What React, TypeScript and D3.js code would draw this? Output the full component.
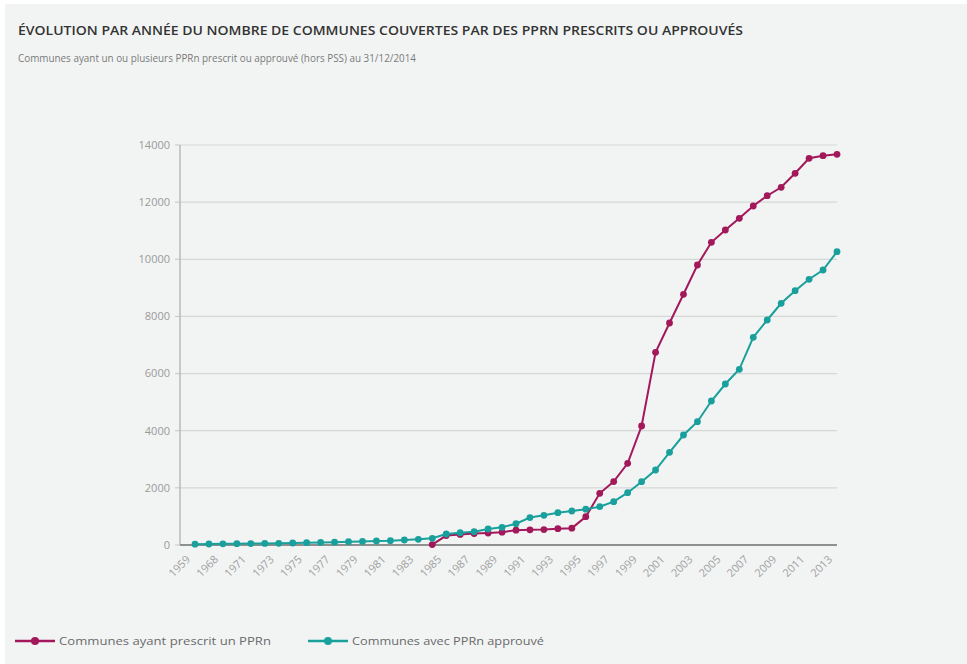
import React from "react";
import * as d3 from "d3";

// Years on the x axis (one point per year, label on every other point)
const years: string[] = [
  "1959", "1966", "1968", "1970",
  "1971", "1972", "1973", "1974", "1975", "1976", "1977", "1978", "1979", "1980",
  "1981", "1982", "1983", "1984", "1985", "1986", "1987", "1988", "1989", "1990",
  "1991", "1992", "1993", "1994", "1995", "1996", "1997", "1998", "1999", "2000",
  "2001", "2002", "2003", "2004", "2005", "2006", "2007", "2008", "2009", "2010",
  "2011", "2012", "2013",
];

// Communes ayant prescrit un PPRn (series starts in 1984)
const prescrit: (number | null)[] = [
  null, null, null, null, null, null, null, null, null, null, null, null, null, null,
  null, null, null, 15, 330, 370, 400, 420, 450, 520,
  530, 540, 570, 590, 990, 1810, 2220, 2860, 4165, 6745,
  7770, 8775, 9800, 10595, 11025, 11435, 11865, 12225, 12520, 13010,
  13535, 13625, 13675,
];

// Communes avec PPRn approuvé
const approuve: number[] = [
  30, 35, 40, 45, 50, 55, 60, 70, 80, 90, 100, 115, 125, 140,
  150, 175, 200, 235, 385, 430, 465, 560, 620, 745,
  960, 1040, 1130, 1190, 1255, 1340, 1515, 1830, 2215, 2625,
  3245, 3850, 4315, 5040, 5635, 6150, 7270, 7875, 8460, 8900,
  9300, 9625, 10265,
];

const yTicks: number[] = [0, 2000, 4000, 6000, 8000, 10000, 12000, 14000];

const title = "ÉVOLUTION PAR ANNÉE DU NOMBRE DE COMMUNES COUVERTES PAR DES PPRN PRESCRITS OU APPROUVÉS";
const subtitle = "Communes ayant un ou plusieurs PPRn prescrit ou approuvé (hors PSS) au 31/12/2014";
const legendLabels = ["Communes ayant prescrit un PPRn", "Communes avec PPRn approuvé"];

const W = 967;
const H = 664;
const plotLeft = 180;
const plotRight = 837;
const plotTop = 145;
const plotBottom = 545;

const MAGENTA = "#a3185b";
const TEAL = "#19a09c";
const FONT = "'Open Sans', 'Noto Sans', sans-serif";

export default function App() {
  const x = d3.scalePoint<string>().domain(years).range([195, plotRight]);
  const y = d3.scaleLinear().domain([0, 14000]).range([plotBottom, plotTop]);

  const line = d3
    .line<number | null>()
    .defined((d) => d !== null)
    .x((_, i) => x(years[i]) as number)
    .y((d) => y(d as number));

  const series = [
    { values: prescrit as (number | null)[], color: MAGENTA },
    { values: approuve as (number | null)[], color: TEAL },
  ];

  return (
    <div style={{ position: "absolute", left: 0, top: 0 }}>
      <svg width={W} height={H} style={{ display: "block" }} fontFamily={FONT}>
        <rect x={0} y={0} width={W} height={H} fill="#ffffff" />
        <rect x={5} y={4} width={W - 5} height={H - 4} fill="#f2f4f4" />

        <text x={18} y={35} fontSize={12.5} fontWeight={600} fill="#333333"
          textLength={725} lengthAdjust="spacingAndGlyphs">
          {title}
        </text>
        <text x={18} y={62} fontSize={11.5} fill="#7a7a7a"
          textLength={398} lengthAdjust="spacingAndGlyphs">
          {subtitle}
        </text>

        {/* gridlines and y tick labels */}
        {yTicks.map((t) => (
          <g key={t}>
            {t > 0 && (
              <line x1={plotLeft} x2={plotRight} y1={y(t)} y2={y(t)} stroke="#d6d8d8" strokeWidth={1.2} />
            )}
            <line x1={plotLeft - 5} x2={plotLeft} y1={y(t)} y2={y(t)} stroke="#c4c6c6" strokeWidth={1} />
            <text x={plotLeft - 10} y={y(t)} dy="0.35em" textAnchor="end" fontSize={11} fill="#9a9a9a">
              {t}
            </text>
          </g>
        ))}

        {/* axes */}
        <line x1={plotLeft} x2={plotLeft} y1={plotTop} y2={plotBottom} stroke="#b8baba" strokeWidth={1.5} />
        <line x1={plotLeft} x2={plotRight} y1={plotBottom} y2={plotBottom} stroke="#8e9090" strokeWidth={2} />

        {/* x tick labels, every other year */}
        {years.map((yr, i) =>
          i % 2 === 0 ? (
            <text key={yr} transform={`translate(${(x(yr) as number) - 4},${plotBottom + 15}) rotate(-45)`}
              textAnchor="end" fontSize={11} fill="#a0a0a0">
              {yr}
            </text>
          ) : null
        )}

        {/* series */}
        {series.map((s, si) => (
          <g key={si}>
            <path d={line(s.values) || ""} fill="none" stroke={s.color} strokeWidth={2} />
            {s.values.map((v, i) =>
              v === null ? null : (
                <circle key={i} cx={x(years[i]) as number} cy={y(v)} r={3.4} fill={s.color} />
              )
            )}
          </g>
        ))}

        {/* legend */}
        {legendLabels.map((lab, i) => {
          const lx = i === 0 ? 15 : 308;
          const col = i === 0 ? MAGENTA : TEAL;
          return (
            <g key={lab}>
              <line x1={lx} x2={lx + 40} y1={641} y2={641} stroke={col} strokeWidth={2.5} />
              <circle cx={lx + 20} cy={641} r={4} fill={col} />
              <text x={lx + 44} y={641} dy="0.35em" fontSize={11.5} fill="#6a6a6a"
                textLength={i === 0 ? 212 : 192} lengthAdjust="spacingAndGlyphs">
                {lab}
              </text>
            </g>
          );
        })}
      </svg>
    </div>
  );
}
